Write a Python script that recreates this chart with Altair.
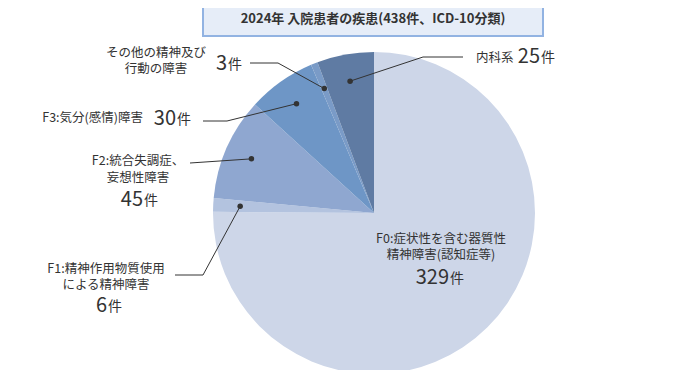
import math
import altair as alt
import pandas as pd

# ---- data ----
categories = ["F0", "F1", "F2", "F3", "その他", "内科系"]
values = [329, 6, 45, 30, 3, 25]
colors = ["#cdd6e8", "#b3c3df", "#8fa7d0", "#6e96c6", "#7a9bc7", "#5f7ba3"]
title_text = "2024年 入院患者の疾患(438件、ICD-10分類)"
label_lines = [
    ["F0:症状性を含む器質性", "精神障害(認知症等)"],
    ["F1:精神作用物質使用", "による精神障害"],
    ["F2:統合失調症、", "妄想性障害"],
    ["F3:気分(感情)障害"],
    ["その他の精神及び", "行動の障害"],
    ["内科系"],
]
unit = "件"

# ---- layout (page coordinates, the page has an 8px margin) ----
OFF = 8
W, H = 664, 362
CX, CY, R = 374 - OFF, 213 - OFF, 161
DOT_R = 134
FONT = "Noto Sans CJK JP"
INK = "#333333"

layout = {
    "F0": dict(lines=[(441, 239, "center"), (441, 255, "center")], num=(449, 278), leader=None),
    "F1": dict(lines=[(106, 269, "center"), (106, 285, "center")], num=(107, 306), leader=[(203, 275), (175, 275)]),
    "F2": dict(lines=[(138, 161, "center"), (138, 178, "center")], num=(143, 200), leader=[(190, 163)]),
    "F3": dict(lines=[(143, 118, "right")], num=(176, 119), leader=[(227, 121), (203, 121)]),
    "その他": dict(lines=[(156, 53, "center"), (156, 69, "center")], num=(227, 64), leader=[(278, 63), (250, 63)]),
    "内科系": dict(lines=[(476, 58, "left")], num=(540, 57), leader=[(423, 57), (463, 57)]),
}

total = sum(values)
pie_df = pd.DataFrame({"cat": categories, "value": values, "k": list(range(len(values)))})

dots, lines_rows, text_rows = [], [], []
cum = 0
for i, (c, v) in enumerate(zip(categories, values)):
    a = (cum + v / 2) / total * 2 * math.pi
    cum += v
    lay = layout[c]
    dx, dy = CX + DOT_R * math.sin(a), CY - DOT_R * math.cos(a)
    if lay["leader"]:
        dots.append({"cat": c, "px": dx, "py": dy})
        pts = [(dx, dy)] + [(x - OFF, y - OFF) for x, y in lay["leader"]]
        for j, (x, y) in enumerate(pts):
            lines_rows.append({"cat": c, "k": j, "px": x, "py": y})
    for txt, (x, y, al) in zip(label_lines[i], lay["lines"]):
        text_rows.append({"t": txt, "px": x - OFF, "py": y - OFF, "fs": 12.5, "al": al})
    nx, ny = lay["num"]
    text_rows.append({"t": str(v), "px": nx - OFF, "py": ny - OFF, "fs": 20, "al": "right"})
    text_rows.append({"t": unit, "px": nx - OFF + 1, "py": ny - OFF + 1, "fs": 14, "al": "left"})

text_df = pd.DataFrame(text_rows)

arcs = alt.Chart(pie_df).mark_arc(outerRadius=R, x=CX, y=CY, strokeWidth=0).encode(
    theta=alt.Theta("value:Q", stack=True),
    color=alt.Color("cat:N", scale=alt.Scale(domain=categories, range=colors), legend=None),
    order=alt.Order("k:Q"),
)

xs = dict(scale=None, axis=None)
leaders = alt.Chart(pd.DataFrame(lines_rows)).mark_line(color=INK, strokeWidth=1).encode(
    x=alt.X("px:Q", **xs), y=alt.Y("py:Q", **xs), detail="cat:N", order="k:Q"
)
dot_layer = alt.Chart(pd.DataFrame(dots)).mark_circle(color=INK, size=30, opacity=1).encode(
    x=alt.X("px:Q", **xs), y=alt.Y("py:Q", **xs)
)

text_layers = []
for al in ["center", "left", "right"]:
    sub = text_df[text_df["al"] == al]
    text_layers.append(
        alt.Chart(sub).mark_text(align=al, baseline="middle", font=FONT, color=INK).encode(
            x=alt.X("px:Q", **xs), y=alt.Y("py:Q", **xs), text="t:N",
            size=alt.Size("fs:Q", scale=None, legend=None),
        )
    )

title_box = alt.Chart(pd.DataFrame({"a": [0]})).mark_rect(
    fill="#e6edf8", stroke="#92b3e2", strokeWidth=2
).encode(x=alt.value(203 - OFF), x2=alt.value(543 - OFF), y=alt.value(-6), y2=alt.value(36 - OFF))

title = alt.Chart(pd.DataFrame({"t": [title_text]})).mark_text(
    font=FONT, fontSize=13, fontWeight="bold", color=INK, align="center", baseline="middle"
).encode(text="t:N", x=alt.value(373 - OFF), y=alt.value(19 - OFF))

chart = alt.layer(arcs, leaders, dot_layer, *text_layers, title_box, title).properties(
    width=W, height=H, autosize=alt.AutoSizeParams(type="none"), padding=0
).configure(background="white", view=alt.ViewConfig(stroke=None))

chart.save("out.html", embed_options={"renderer": "svg", "actions": False})
